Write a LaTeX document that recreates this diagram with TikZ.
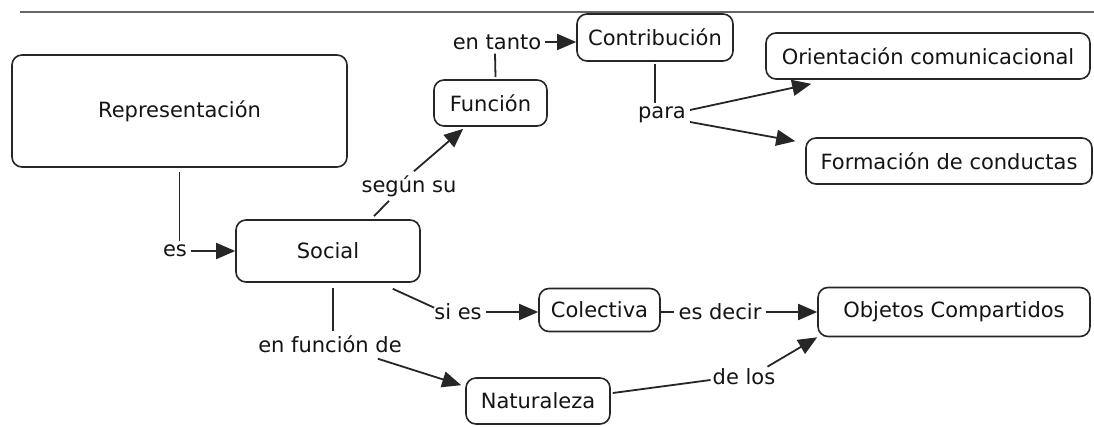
\documentclass[tikz,border=0pt]{standalone}
\usepackage{fontspec}
\setmainfont{DejaVu Sans}
\usetikzlibrary{arrows.meta,calc}
\begin{document}
\begin{tikzpicture}[x=1pt,y=-1pt,
  concept/.style={draw=black!85, rounded corners=10pt, line width=1.6pt, font=\fontsize{21}{24}\selectfont, text=black!92, inner sep=0pt},
  lbl/.style={font=\fontsize{21}{24}\selectfont, text=black!92, inner sep=4pt},
  link/.style={draw=black!85, line width=1.8pt},
  arr/.style={draw=black!85, line width=1.8pt, -{Triangle[length=19pt,width=16pt]}}]
\useasboundingbox (0,0) rectangle (1094,427);
\fill[white] (0,0) rectangle (1094,427);
\draw[black!60, line width=1.2pt] (20,12) -- (1094,12);
% concepts
\node[concept, minimum width=335pt, minimum height=112pt] (repr) at (179.5,111) {Representación};
\node[concept, minimum width=113pt, minimum height=46pt] (funcion) at (490.5,103) {Función};
\node[concept, minimum width=156pt, minimum height=47pt] (contrib) at (655,37.5) {Contribución};
\node[concept, minimum width=324pt, minimum height=46pt] (orient) at (928,56) {Orientación comunicacional};
\node[concept, minimum width=286pt, minimum height=46pt] (formac) at (949,161) {Formación de conductas};
\node[concept, minimum width=184pt, minimum height=62pt] (social) at (328,251) {Social};
\node[concept, minimum width=121pt, minimum height=43pt] (colect) at (599.5,310) {Colectiva};
\node[concept, minimum width=272pt, minimum height=49pt] (objetos) at (954,312) {Objetos Compartidos};
\node[concept, minimum width=144pt, minimum height=46pt] (natur) at (538,401) {Naturaleza};
% link labels
\node[lbl] (entanto) at (497,42) {en tanto};
\node[lbl] (para) at (662,115) {para};
\node[lbl] (segun) at (409,186) {según su};
\node[lbl] (es) at (175,251) {es};
\node[lbl] (sies) at (458,312) {si es};
\node[lbl] (esdecir) at (720,312) {es decir};
\node[lbl] (enfuncion) at (330,344) {en función de};
\node[lbl] (delos) at (744,377) {de los};
% connectors
\draw[link] ($(funcion.north)+(5,-2)$) -- ($(entanto.south)+(-2,0)$);
\draw[arr] (entanto.east) -- (entanto.east -| contrib.west);
\draw[link] ($(contrib.south)+(0,2)$) -- (contrib.south |- para.north);
\draw[arr] ($(para.east)+(0,-5)$) -- ($(orient.south west)+(46,4)$);
\draw[arr] ($(para.east)+(0,7)$) -- ($(formac.north west)+(-10,4)$);
\draw[link] ($(social.north)+(46,-3)$) -- ($(segun.south)+(-20,0)$);
\draw[arr] ($(segun.north)+(5,0)$) -- ($(funcion.south west)+(30,2)$);
\draw[link] ($(repr.south)+(0,4)$) -- (repr.south |- es.north);
\draw[arr] (es.east) -- (social.west);
\draw[link] ($(social.south east)+(-28,6)$) -- ($(sies.north west)+(4,8)$);
\draw[arr] (sies.east) -- (sies.east -| colect.west);
\draw[link] (colect.east |- esdecir.west) -- (esdecir.west);
\draw[arr] (esdecir.east) -- (esdecir.east -| objetos.west);
\draw[link] ($(social.south)+(5,5)$) -- ($(enfuncion.north)+(3,0)$);
\draw[arr] ($(enfuncion.south east)+(-28,2)$) -- ($(natur.north west)+(-4,8)$);
\draw[link] ($(natur.east)+(2,-8)$) -- ($(delos.west)+(2,3)$);
\draw[arr] ($(delos.north east)+(-12,2)$) -- (objetos.south west);
\end{tikzpicture}
\end{document}
